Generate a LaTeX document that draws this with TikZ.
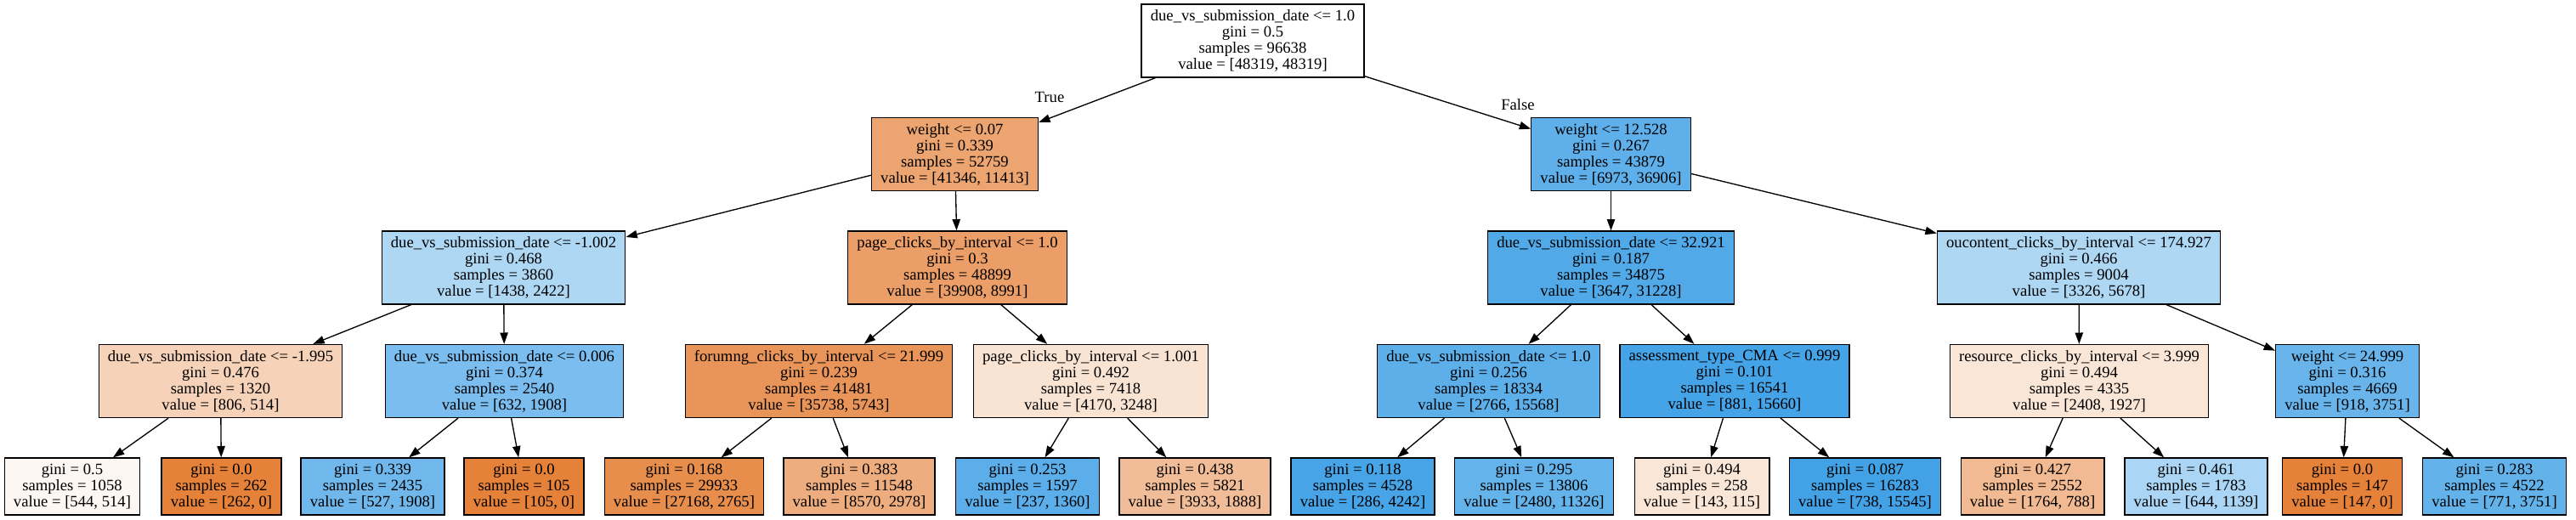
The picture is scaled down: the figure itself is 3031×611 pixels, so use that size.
\documentclass[tikz,border=0pt]{standalone}
\usepackage{fontspec}
\setmainfont{Liberation Serif}
\usetikzlibrary{arrows.meta}

\definecolor{tOrange}{RGB}{229,129,57}
\definecolor{tBlue}{RGB}{57,157,229}

\begin{document}
\begin{tikzpicture}[
  x=0.75pt, y=-0.75pt,
  font=\fontsize{14}{14.25}\selectfont,
  split/.style={draw, line width=1pt, align=center, inner xsep=8pt, minimum height=64.5pt},
  leaf/.style={split, minimum height=50.25pt},
  edge/.style={-{Triangle[length=10pt,width=7pt]}, line width=1pt}
]
\useasboundingbox (0,0) rectangle (3031,611);

% Row positions (y, pixels from top)
\def\yA{48}
\def\yB{181.5}
\def\yC{315}
\def\yD{448.5}
\def\yE{572.5}

% Root
\node[split, fill=white] (root) at (1474,\yA)
  {due\_vs\_submission\_date <= 1.0\\gini = 0.5\\samples = 96638\\value = [48319, 48319]};

% Depth 1
\node[split, fill=tOrange!72] (n1) at (1123.5,\yB)
  {weight <= 0.07\\gini = 0.339\\samples = 52759\\value = [41346, 11413]};
\node[split, fill=tBlue!81] (n2) at (1895.5,\yB)
  {weight <= 12.528\\gini = 0.267\\samples = 43879\\value = [6973, 36906]};

% Depth 2
\node[split, fill=tBlue!41] (n3) at (592.5,\yC)
  {due\_vs\_submission\_date <= -1.002\\gini = 0.468\\samples = 3860\\value = [1438, 2422]};
\node[split, fill=tOrange!77] (n4) at (1126.5,\yC)
  {page\_clicks\_by\_interval <= 1.0\\gini = 0.3\\samples = 48899\\value = [39908, 8991]};
\node[split, fill=tBlue!88] (n5) at (1895.5,\yC)
  {due\_vs\_submission\_date <= 32.921\\gini = 0.187\\samples = 34875\\value = [3647, 31228]};
\node[split, fill=tBlue!41] (n6) at (2446,\yC)
  {oucontent\_clicks\_by\_interval <= 174.927\\gini = 0.466\\samples = 9004\\value = [3326, 5678]};

% Depth 3
\node[split, fill=tOrange!36] (n7) at (259.5,\yD)
  {due\_vs\_submission\_date <= -1.995\\gini = 0.476\\samples = 1320\\value = [806, 514]};
\node[split, fill=tBlue!67] (n8) at (593.5,\yD)
  {due\_vs\_submission\_date <= 0.006\\gini = 0.374\\samples = 2540\\value = [632, 1908]};
\node[split, fill=tOrange!84] (n9) at (963.5,\yD)
  {forumng\_clicks\_by\_interval <= 21.999\\gini = 0.239\\samples = 41481\\value = [35738, 5743]};
\node[split, fill=tOrange!22] (n10) at (1283.5,\yD)
  {page\_clicks\_by\_interval <= 1.001\\gini = 0.492\\samples = 7418\\value = [4170, 3248]};
\node[split, fill=tBlue!82] (n11) at (1751.5,\yD)
  {due\_vs\_submission\_date <= 1.0\\gini = 0.256\\samples = 18334\\value = [2766, 15568]};
\node[split, fill=tBlue!94] (n12) at (2041,\yD)
  {assessment\_type\_CMA <= 0.999\\gini = 0.101\\samples = 16541\\value = [881, 15660]};
\node[split, fill=tOrange!20] (n13) at (2446.5,\yD)
  {resource\_clicks\_by\_interval <= 3.999\\gini = 0.494\\samples = 4335\\value = [2408, 1927]};
\node[split, fill=tBlue!76] (n14) at (2762,\yD)
  {weight <= 24.999\\gini = 0.316\\samples = 4669\\value = [918, 3751]};

% Leaves
\node[leaf, fill=tOrange!6]   (l1)  at (85,\yE)     {gini = 0.5\\samples = 1058\\value = [544, 514]};
\node[leaf, fill=tOrange]     (l2)  at (260.5,\yE)  {gini = 0.0\\samples = 262\\value = [262, 0]};
\node[leaf, fill=tBlue!72]    (l3)  at (438.5,\yE)  {gini = 0.339\\samples = 2435\\value = [527, 1908]};
\node[leaf, fill=tOrange]     (l4)  at (616.5,\yE)  {gini = 0.0\\samples = 105\\value = [105, 0]};
\node[leaf, fill=tOrange!90]  (l5)  at (805,\yE)    {gini = 0.168\\samples = 29933\\value = [27168, 2765]};
\node[leaf, fill=tOrange!65]  (l6)  at (1011,\yE)   {gini = 0.383\\samples = 11548\\value = [8570, 2978]};
\node[leaf, fill=tBlue!83]    (l7)  at (1209,\yE)   {gini = 0.253\\samples = 1597\\value = [237, 1360]};
\node[leaf, fill=tOrange!52]  (l8)  at (1406,\yE)   {gini = 0.438\\samples = 5821\\value = [3933, 1888]};
\node[leaf, fill=tBlue!93]    (l9)  at (1603.5,\yE) {gini = 0.118\\samples = 4528\\value = [286, 4242]};
\node[leaf, fill=tBlue!78]    (l10) at (1805,\yE)   {gini = 0.295\\samples = 13806\\value = [2480, 11326]};
\node[leaf, fill=tOrange!20]  (l11) at (2002.5,\yE) {gini = 0.494\\samples = 258\\value = [143, 115]};
\node[leaf, fill=tBlue!95]    (l12) at (2194.5,\yE) {gini = 0.087\\samples = 16283\\value = [738, 15545]};
\node[leaf, fill=tOrange!55]  (l13) at (2391.5,\yE) {gini = 0.427\\samples = 2552\\value = [1764, 788]};
\node[leaf, fill=tBlue!43]    (l14) at (2584,\yE)   {gini = 0.461\\samples = 1783\\value = [644, 1139]};
\node[leaf, fill=tOrange]     (l15) at (2756,\yE)   {gini = 0.0\\samples = 147\\value = [147, 0]};
\node[leaf, fill=tBlue!79]    (l16) at (2935,\yE)   {gini = 0.283\\samples = 4522\\value = [771, 3751]};

% Branch labels
\node (truelbl)  at (1235,114) {True};
\node (falselbl) at (1786,123) {False};

% Edges
\foreach \p/\c in {root/n1, root/n2, n1/n3, n1/n4, n2/n5, n2/n6,
                   n3/n7, n3/n8, n4/n9, n4/n10, n5/n11, n5/n12, n6/n13, n6/n14,
                   n7/l1, n7/l2, n8/l3, n8/l4, n9/l5, n9/l6, n10/l7, n10/l8,
                   n11/l9, n11/l10, n12/l11, n12/l12, n13/l13, n13/l14, n14/l15, n14/l16} {
  \draw[edge] (\p) -- (\c);
}

\end{tikzpicture}
\end{document}
